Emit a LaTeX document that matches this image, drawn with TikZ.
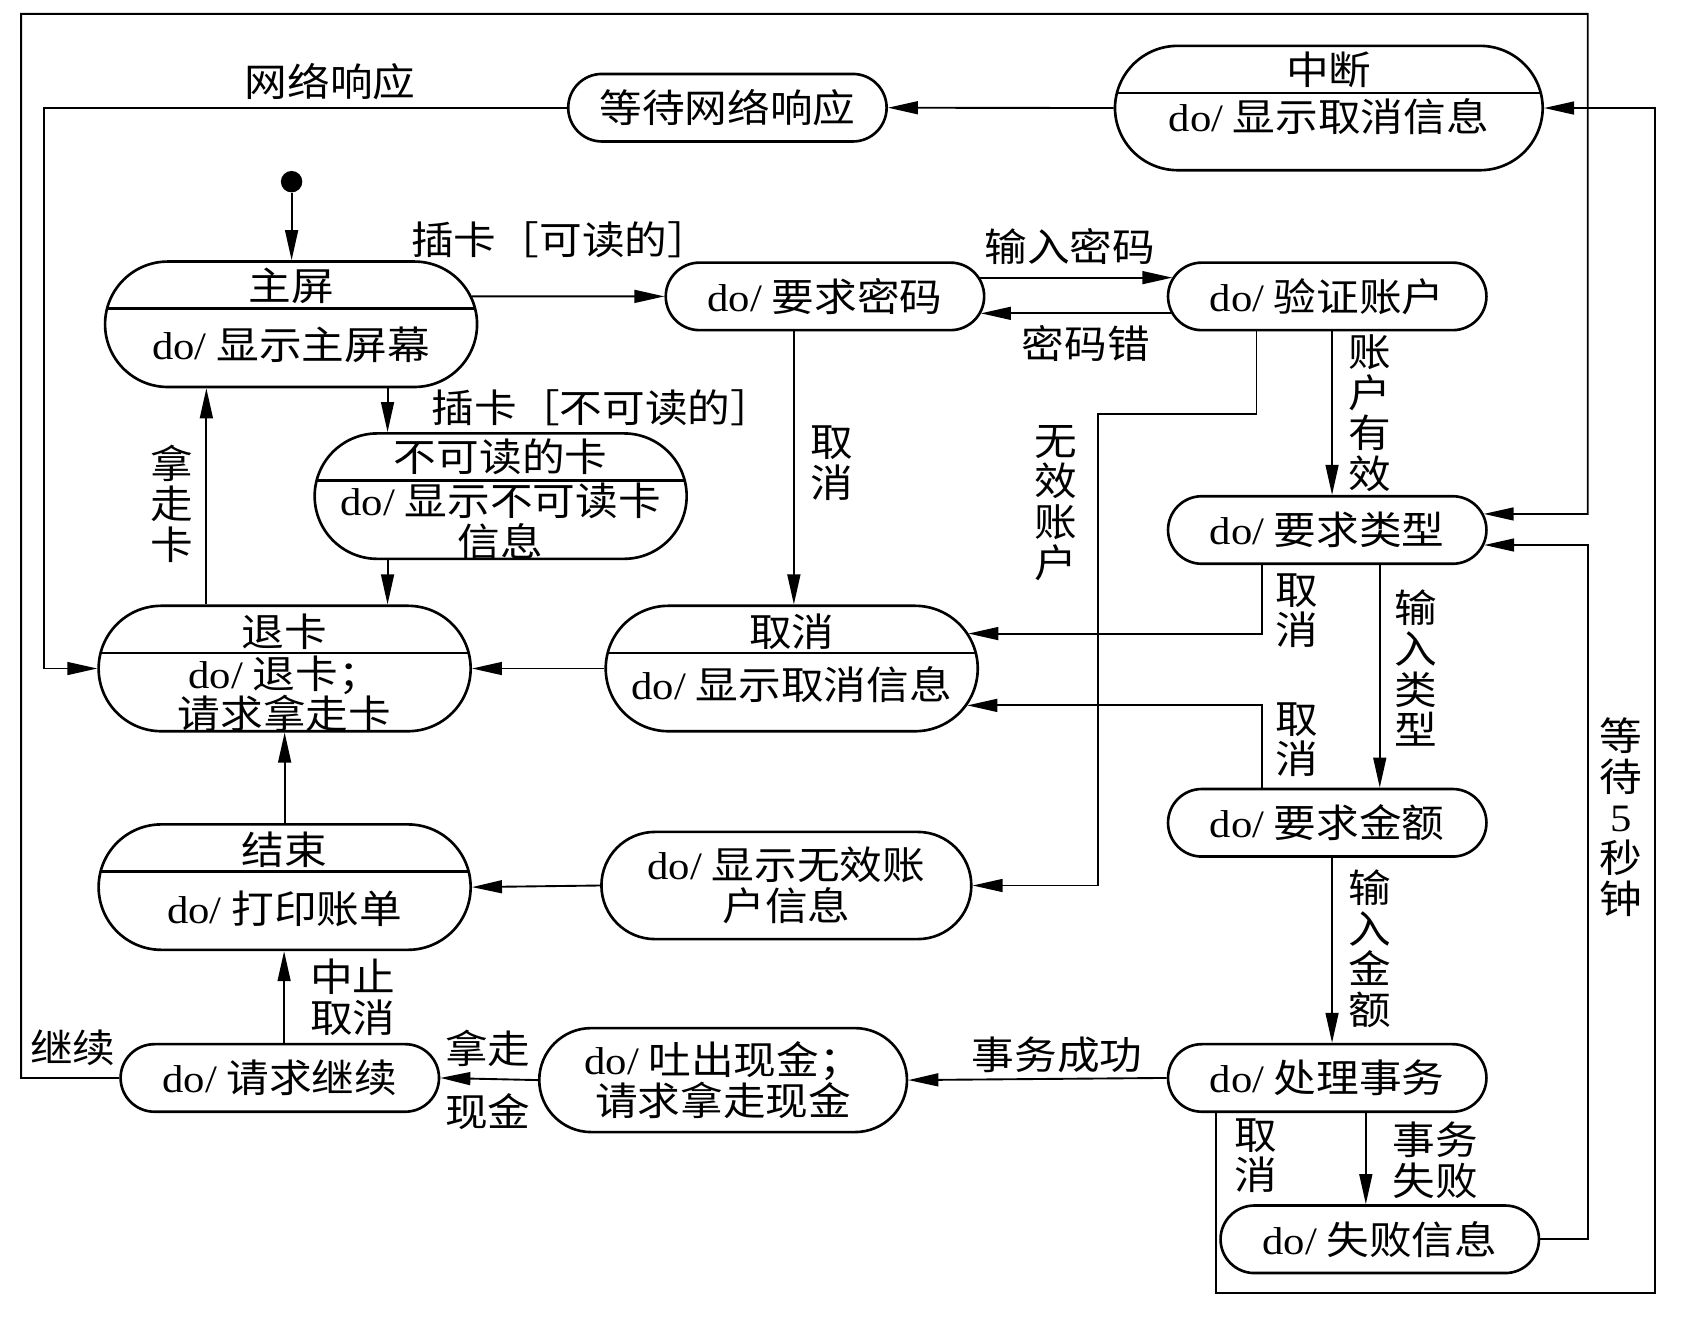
\documentclass[tikz,border=0pt]{standalone}
\usepackage{fontspec}
\setmainfont{Liberation Serif}[FakeStretch=1.1]
\newfontfamily\zh{Noto Sans CJK SC}[FakeStretch=1.1]
\usetikzlibrary{arrows.meta}

\begin{document}
\begin{tikzpicture}[font=\fontsize{10.3}{10.8}\selectfont\zh,
  state/.style ={rectangle, draw, line width=0.7pt, rounded corners=0.315cm, minimum width=2.97cm, minimum height=0.63cm, inner sep=0pt, align=center},
  bigstate/.style ={state, rounded corners=0.585cm, minimum width=3.47cm, minimum height=1.17cm},
  divided/.style ={path picture={\draw[line width=0.7pt] ([yshift=-4.4mm]path picture bounding box.north west) -- ([yshift=-4.4mm]path picture bounding box.north east);}},
  trans/.style ={line width=0.5pt, -{Triangle[length=2.8mm,width=1.2mm]}},
  startdot/.style ={circle, fill, inner sep=0pt, minimum size=2mm},
  txt/.style ={align=center, inner sep=0pt}]
 \useasboundingbox (0,0) rectangle (15.68,12.28);
 \node[state] (wait) at (6.785,11.275) {等待网络响应};
 \node[bigstate, divided, minimum width=3.99cm, minimum height=1.16cm] (zd) at (12.395,11.272) {};
 \node[txt] (zd-t) at (12.395,11.63) {中断};
 \node[txt] (zd-b) at (12.395,11.19) {{\rmfamily do/} 显示取消信息};
 \node[startdot] (start) at (2.72,10.585) {};
 \node[bigstate, divided] (zp) at (2.715,9.255) {};
 \node[txt] (zp-t) at (2.715,9.61) {主屏};
 \node[txt] (zp-b) at (2.715,9.06) {{\rmfamily do/} 显示主屏幕};
 \node[state] (mm) at (7.695,9.515) {{\rmfamily do/} 要求密码};
 \node[state] (yz) at (12.38,9.515) {{\rmfamily do/} 验证账户};
 \node[bigstate, divided] (bk) at (4.67,7.652) {};
 \node[txt] (bk-t) at (4.67,8.02) {不可读的卡};
 \node[txt] (bk-b) at (4.67,7.415) {{\rmfamily do/} 显示不可读卡\\信息};
 \node[bigstate, divided] (tk) at (2.655,6.044) {};
 \node[txt] (tk-t) at (2.655,6.39) {退卡};
 \node[txt] (tk-b) at (2.655,5.807) {{\rmfamily do/} 退卡；\\请求拿走卡};
 \node[bigstate, divided] (qx) at (7.385,6.044) {};
 \node[txt] (qx-t) at (7.385,6.39) {取消};
 \node[txt] (qx-b) at (7.385,5.89) {{\rmfamily do/} 显示取消信息};
 \node[state] (lx) at (12.38,7.336) {{\rmfamily do/} 要求类型};
 \node[state] (je) at (12.38,4.605) {{\rmfamily do/} 要求金额};
 \node[bigstate, divided] (js) at (2.655,4.005) {};
 \node[txt] (js-t) at (2.655,4.355) {结束};
 \node[txt] (js-b) at (2.655,3.80) {{\rmfamily do/} 打印账单};
 \node[bigstate, minimum width=3.45cm, minimum height=1cm, rounded corners=0.5cm] (wx) at (7.335,4.02) {{\rmfamily do/} 显示无效账\\户信息};
 \node[state] (jx) at (2.61,2.225) {{\rmfamily do/} 请求继续};
 \node[bigstate, minimum width=3.43cm, minimum height=0.97cm, rounded corners=0.485cm] (tc) at (6.745,2.205) {{\rmfamily do/} 吐出现金；\\请求拿走现金};
 \node[state] (cl) at (12.38,2.225) {{\rmfamily do/} 处理事务};
 \node[state] (sb) at (12.87,0.72) {{\rmfamily do/} 失败信息};
 \node[txt] (l-wl) at (3.08,11.52) {网络响应};
 \node[txt] (l-kd) at (5.23,10.04) {插卡［可读的］};
 \node[txt] (l-bkd) at (5.62,8.48) {插卡［不可读的］};
 \node[txt] (l-srmm) at (9.98,9.98) {输入密码};
 \node[txt] (l-mmc) at (10.13,9.08) {密码错};
 \node[txt] (l-nzk) at (1.606,7.58) {拿\\走\\卡};
 \node[txt] (l-qx1) at (7.76,7.96) {取\\消};
 \node[txt] (l-wxzh) at (9.847,7.59) {无\\效\\账\\户};
 \node[txt] (l-zhyx) at (12.78,8.425) {账\\户\\有\\效};
 \node[txt] (l-qx2) at (12.10,6.585) {取\\消};
 \node[txt] (l-srlx) at (13.21,6.045) {输\\入\\类\\型};
 \node[txt] (l-qx3) at (12.10,5.38) {取\\消};
 \node[txt] (l-srje) at (12.78,3.43) {输\\入\\金\\额};
 \node[txt] (l-dd) at (15.12,4.66) {等\\待\\{\rmfamily 5}\\秒\\钟};
 \node[txt] (l-zzqx) at (3.29,2.975) {中止\\取消};
 \node[txt] (l-jx) at (0.68,2.503) {继续};
 \node[txt] (l-nz) at (4.55,2.503) {拿走};
 \node[txt] (l-xj) at (4.55,1.91) {现金};
 \node[txt] (l-swcg) at (9.86,2.44) {事务成功};
 \node[txt] (l-qx4) at (11.71,1.50) {取\\消};
 \node[txt] (l-swsb) at (13.386,1.46) {事务\\失败};
 \draw[trans] (start) -- (start |- zp.north);
 \draw[trans] ([xshift=-0.6mm,yshift=2.6mm]zp.east) -- (mm.west);
 \draw[trans] ([xshift=-0.53mm,yshift=1.75mm]mm.east) -- ([xshift=0.53mm,yshift=1.75mm]yz.west);
 \draw[trans] ([xshift=0.43mm,yshift=-1.58mm]yz.west) -- ([xshift=-0.43mm,yshift=-1.58mm]mm.east);
 \draw[trans] ([xshift=9mm]zp.south) -- ([xshift=9mm]zp.south |- bk.north);
 \draw[trans] ([xshift=-7.3mm]tk.north) -- ([xshift=-7.3mm]tk.north |- zp.south);
 \draw[trans] ([xshift=-10.55mm]bk.south) -- ([xshift=-10.55mm]bk.south |- tk.north);
 \draw[trans] ([xshift=-2.9mm]mm.south) -- ([xshift=-2.9mm]mm.south |- qx.north);
 \draw[trans] ([xshift=-6.6mm]yz.south) |- (10.24,8.42) |- (wx.east);
 \draw[trans] ([xshift=0.45mm]yz.south) -- ([xshift=0.45mm]yz.south |- lx.north);
 \draw[trans] ([xshift=-6.1mm]lx.south) |- ([xshift=-1mm,yshift=3.26mm]qx.east);
 \draw[trans] ([xshift=-6.1mm]je.north) |- ([xshift=-1.1mm,yshift=-3.44mm]qx.east);
 \draw[trans] ([xshift=4.9mm]lx.south) -- ([xshift=4.9mm]lx.south |- je.north);
 \draw[trans] (qx.west) -- (tk.east);
 \draw[trans] (wx.west) -- (js.east);
 \draw[trans] (js.north) -- (tk.south);
 \draw[trans] ([xshift=0.4mm]jx.north) -- ([xshift=0.4mm]jx.north |- js.south);
 \draw[trans] (tc.west) -- (jx.east);
 \draw[trans] (cl.west) -- (tc.east);
 \draw[trans] ([xshift=0.45mm]je.south) -- ([xshift=0.45mm]je.south |- cl.north);
 \draw[trans] ([xshift=3.6mm]cl.south) -- ([xshift=3.6mm]cl.south |- sb.north);
 \draw[trans] ([xshift=-10.4mm]cl.south) |- (15.44,0.22) |- (zd.east);
 \draw[trans] (sb.east) -| (14.81,7.196) -- ([xshift=-0.33mm,yshift=-1.4mm]lx.east);
 \draw[trans] (jx.west) -| (0.197,12.15) -| (14.81,7.485) -- ([xshift=-0.38mm,yshift=1.5mm]lx.east);
 \draw[trans] (zd.west) -- (wait.east);
 \draw[trans] (wait.west) -| (0.41,6.044) -- (tk.west);
\end{tikzpicture}
\end{document}
